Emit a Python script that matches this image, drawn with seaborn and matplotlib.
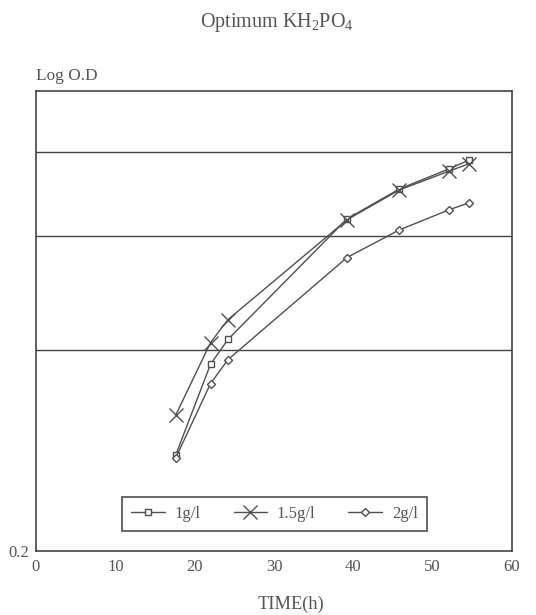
import matplotlib
matplotlib.use('Agg')
import matplotlib.pyplot as plt
import seaborn as sns
import pandas as pd

# ---- data ----
time_h = [17.6, 22.0, 24.2, 39.2, 45.8, 52.1, 54.6]
od_1g = [0.408, 0.606, 0.660, 0.922, 0.987, 1.031, 1.050]
od_15g = [0.495, 0.653, 0.703, 0.920, 0.985, 1.026, 1.042]
od_2g = [0.402, 0.564, 0.616, 0.838, 0.898, 0.942, 0.957]
series_names = ['1g/l', '1.5g/l', '2g/l']
grid_levels = [0.636, 0.885, 1.068]
x_ticks = [0, 10, 20, 30, 40, 50, 60]

sns.set_style('white')
plt.rcParams['font.family'] = ['Liberation Serif', 'DejaVu Serif']
plt.rcParams['mathtext.fontset'] = 'custom'
plt.rcParams['mathtext.rm'] = 'Liberation Serif'

TXT = '#555555'
LINE = '#505050'

fig = plt.figure(figsize=(5.36, 6.15), dpi=100)
ax = fig.add_axes([36/536, 1-551/615, (512-36)/536, (551-91)/615])

df = pd.DataFrame({
    'time': time_h * 3,
    'od': od_1g + od_15g + od_2g,
    'series': [series_names[0]]*7 + [series_names[1]]*7 + [series_names[2]]*7,
})

styles = {
    '1g/l': dict(marker='s', markersize=5, markerfacecolor='white', markeredgewidth=1.0),
    '1.5g/l': dict(marker='x', markersize=10, markeredgewidth=1.0),
    '2g/l': dict(marker='D', markersize=4.5, markerfacecolor='white', markeredgewidth=1.0),
}
for name in series_names:
    sub = df[df['series'] == name]
    sns.lineplot(data=sub, x='time', y='od', ax=ax, color=LINE, linewidth=1.0,
                 markeredgecolor=LINE, label=name, **styles[name])

for g in grid_levels:
    ax.axhline(g, color='#444444', linewidth=1.0, zorder=0)

ax.set_xlim(0, 60)
ax.set_ylim(0.2, 1.2)
ax.set_xticks(x_ticks)
ax.set_xticklabels([str(t) for t in x_ticks], color=TXT, fontsize=12)
ax.set_yticks([0.2])
ax.set_yticklabels(['0.2'], color=TXT, fontsize=12)
ax.tick_params(axis='x', direction='in', length=5, width=1, color='#444444', pad=6)
ax.tick_params(axis='y', length=0, pad=5)
ax.set_xlabel('')
ax.set_ylabel('')
for s in ax.spines.values():
    s.set_color('#444444')
    s.set_linewidth(1.2)

leg = ax.legend(loc='lower left', bbox_to_anchor=(0.181, 0.043, 0.64, 0.079),
                mode='expand', ncol=3, frameon=True, fancybox=False,
                borderaxespad=0.0,
                fontsize=12, handlelength=2.0, borderpad=0.55, handletextpad=0.6,
                columnspacing=1.5)
leg.get_frame().set_edgecolor('#333333')
leg.get_frame().set_linewidth(1.3)
for t in leg.get_texts():
    t.set_color(TXT)

fig.text(36/536, 1-76/615, 'Log O.D', ha='left', va='center', color=TXT, fontsize=12.4)
fig.text(291/536, 1-604/615, 'TIME(h)', ha='center', va='center', color=TXT, fontsize=13.2)
fig.text(277/536, 1-22/615, r'Optimum KH$\mathregular{_2}$PO$\mathregular{_4}$',
         ha='center', va='center', color=TXT, fontsize=14.5)

fig.savefig('out.png', dpi=100, facecolor='white')
